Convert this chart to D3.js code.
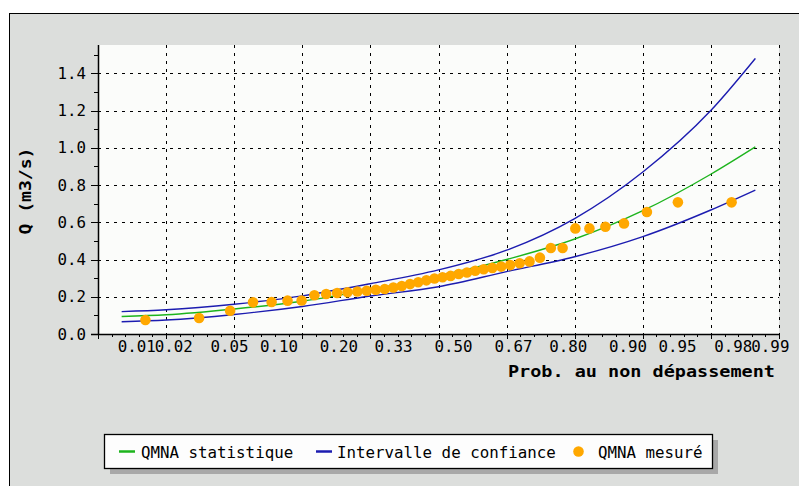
<!DOCTYPE html>
<html>
<head>
<meta charset="utf-8">
<script src="https://cdn.jsdelivr.net/npm/d3@7"></script>
<style>
  body { margin: 0; background: #ffffff; }
  svg { display: block; }
  text { font-family: "DejaVu Sans Mono", monospace; fill: #000; }
</style>
</head>
<body>
<div id="chart"></div>
<script>
// probability axis labels
const probTickValues = [0.01, 0.02, 0.05, 0.10, 0.20, 0.33, 0.50, 0.67, 0.80, 0.90, 0.95, 0.98, 0.99];
const probTickLabels = ["0.01", "0.02", "0.05", "0.10", "0.20", "0.33", "0.50", "0.67", "0.80", "0.90", "0.95", "0.98", "0.99"];

// fitted curve + confidence interval
const curveProb = [0.01, 0.0228, 0.0668, 0.1587, 0.3085, 0.5, 0.6915, 0.8413, 0.9332, 0.9772, 0.99];
const qmnaStat  = [0.094, 0.103, 0.134, 0.176, 0.238, 0.312, 0.400, 0.510, 0.662, 0.858, 1.005];
const ciUpper   = [0.120, 0.130, 0.160, 0.205, 0.270, 0.344, 0.450, 0.620, 0.870, 1.200, 1.480];
const ciLower   = [0.066, 0.075, 0.105, 0.148, 0.204, 0.254, 0.335, 0.415, 0.523, 0.666, 0.773];

// measured QMNA, sorted, with their plotting probabilities
const measuredProb = [0.0157, 0.0394, 0.0630, 0.0866, 0.1102, 0.1339, 0.1575, 0.1811, 0.2047, 0.2283,
  0.2520, 0.2756, 0.2992, 0.3228, 0.3465, 0.3701, 0.3937, 0.4173, 0.4409, 0.4646,
  0.4882, 0.5118, 0.5354, 0.5591, 0.5827, 0.6063, 0.6299, 0.6535, 0.6772, 0.7008,
  0.7244, 0.7480, 0.7717, 0.7953, 0.8189, 0.8425, 0.8661, 0.8898, 0.9134, 0.9370,
  0.9606, 0.9843];
const measuredQ = [0.075, 0.086, 0.125, 0.170, 0.172, 0.179, 0.180, 0.208, 0.215, 0.220,
  0.224, 0.228, 0.232, 0.238, 0.242, 0.250, 0.258, 0.268, 0.278, 0.288,
  0.298, 0.305, 0.312, 0.322, 0.330, 0.340, 0.348, 0.355, 0.362, 0.370,
  0.380, 0.390, 0.410, 0.462, 0.462, 0.567, 0.567, 0.576, 0.594, 0.655,
  0.707, 0.707];

const legendItems = ["QMNA statistique", "Intervalle de confiance", "QMNA mesuré"];

// inverse normal cdf (Acklam)
function probit(p) {
    const a = [-3.969683028665376e+01, 2.209460984245205e+02, -2.759285104469687e+02, 1.383577518672690e+02, -3.066479806614716e+01, 2.506628277459239e+00];
    const b = [-5.447609879822406e+01, 1.615858368580409e+02, -1.556989798598866e+02, 6.680131188771972e+01, -1.328068155288572e+01];
    const c = [-7.784894002430293e-03, -3.223964580411365e-01, -2.400758277161838e+00, -2.549732539343734e+00, 4.374664141464968e+00, 2.938163982698783e+00];
    const d = [7.784695709041462e-03, 3.224671290700398e-01, 2.445134137142996e+00, 3.754408661907416e+00];
    const pl = 0.02425;
    if (p < pl) {
        const q = Math.sqrt(-2 * Math.log(p));
        return (((((c[0]*q+c[1])*q+c[2])*q+c[3])*q+c[4])*q+c[5]) / ((((d[0]*q+d[1])*q+d[2])*q+d[3])*q+1);
    }
    if (p > 1 - pl) {
        const q = Math.sqrt(-2 * Math.log(1 - p));
        return -(((((c[0]*q+c[1])*q+c[2])*q+c[3])*q+c[4])*q+c[5]) / ((((d[0]*q+d[1])*q+d[2])*q+d[3])*q+1);
    }
    const q = p - 0.5, r = q * q;
    return (((((a[0]*r+a[1])*r+a[2])*r+a[3])*r+a[4])*r+a[5])*q / (((((b[0]*r+b[1])*r+b[2])*r+b[3])*r+b[4])*r+1);
}

class ProbabilityChart {
    constructor(_config) {
        this.config = {
            parentElement: _config.parentElement,
            width: 799,
            height: 486,
            margin: {top: 45, right: 20, bottom: 152, left: 98}
        };
        this.initVis();
    }

    initVis() {
        let vis = this;
        const m = vis.config.margin;
        vis.innerW = 681;
        vis.innerH = vis.config.height - m.top - m.bottom;

        vis.svgRoot = d3.select(vis.config.parentElement).append("svg")
            .attr("width", vis.config.width)
            .attr("height", vis.config.height);

        // grey panel with black frame
        vis.svgRoot.append("rect")
            .attr("x", 9.5).attr("y", 13.5)
            .attr("width", 820).attr("height", 500)
            .attr("fill", "#dcdedc")
            .attr("stroke", "#000");

        vis.svg = vis.svgRoot.append("g")
            .attr("transform", `translate(${m.left},${m.top})`);

        // x is linear in the normal variate
        vis.zScale = d3.scaleLinear().domain([-2.5, 2.5]).range([0, vis.innerW]);
        vis.xScale = p => vis.zScale(probit(p));
        vis.yScale = d3.scaleLinear().domain([0, 1.552]).range([vis.innerH, 0]);

        vis.renderVis();
    }

    renderVis() {
        let vis = this;
        const W = vis.innerW, H = vis.innerH;

        vis.svg.append("rect")
            .attr("width", W).attr("height", H)
            .attr("fill", "#fbfcfa");

        // grid
        const zMajor = d3.range(-2, 2.51, 0.5);
        vis.svg.append("g").selectAll("line")
            .data(zMajor)
            .join("line")
                .attr("x1", d => Math.round(vis.zScale(d)) + 0.5)
                .attr("x2", d => Math.round(vis.zScale(d)) + 0.5)
                .attr("y1", 0).attr("y2", H)
                .attr("stroke", "#000")
                .attr("stroke-dasharray", "3,5");

        const yMajor = d3.range(0.2, 1.41, 0.2);
        vis.svg.append("g").selectAll("line")
            .data(yMajor)
            .join("line")
                .attr("x1", 0).attr("x2", W)
                .attr("y1", d => Math.round(vis.yScale(d)) + 0.5)
                .attr("y2", d => Math.round(vis.yScale(d)) + 0.5)
                .attr("stroke", "#000")
                .attr("stroke-dasharray", "3,5");

        // curves
        const line = d3.line()
            .x(d => vis.xScale(d[0]))
            .y(d => vis.yScale(d[1]))
            .curve(d3.curveMonotoneX);

        const series = [
            {vals: ciUpper, color: "#1c1cb0"},
            {vals: ciLower, color: "#1c1cb0"},
            {vals: qmnaStat, color: "#1db41d"}
        ];
        vis.svg.append("g").selectAll("path")
            .data(series)
            .join("path")
                .attr("d", s => line(curveProb.map((p, i) => [p, s.vals[i]])))
                .attr("fill", "none")
                .attr("stroke", s => s.color)
                .attr("stroke-width", 1.4);

        // measured points
        vis.svg.append("g").selectAll("circle")
            .data(measuredProb.map((p, i) => ({p: p, q: measuredQ[i]})))
            .join("circle")
                .attr("cx", d => vis.xScale(d.p))
                .attr("cy", d => vis.yScale(d.q))
                .attr("r", 5.3)
                .attr("fill", "#ffa800");

        // axes lines
        vis.svg.append("line")
            .attr("x1", 0.5).attr("x2", 0.5).attr("y1", 0).attr("y2", H + 0.5)
            .attr("stroke", "#000").attr("stroke-width", 1.5);
        vis.svg.append("line")
            .attr("x1", -7).attr("x2", W + 0.5).attr("y1", H + 0.5).attr("y2", H + 0.5)
            .attr("stroke", "#000").attr("stroke-width", 1.5);

        // y ticks
        const yMinor = d3.range(0.1, 1.51, 0.2);
        vis.svg.append("g").selectAll("line")
            .data(yMinor)
            .join("line")
                .attr("x1", -4).attr("x2", 0)
                .attr("y1", d => Math.round(vis.yScale(d)) + 0.5)
                .attr("y2", d => Math.round(vis.yScale(d)) + 0.5)
                .attr("stroke", "#000");
        vis.svg.append("g").selectAll("line")
            .data(d3.range(0, 1.41, 0.2))
            .join("line")
                .attr("x1", -7).attr("x2", 0)
                .attr("y1", d => Math.round(vis.yScale(d)) + 0.5)
                .attr("y2", d => Math.round(vis.yScale(d)) + 0.5)
                .attr("stroke", "#000");
        vis.svg.append("g").selectAll("text")
            .data(d3.range(0, 1.41, 0.2))
            .join("text")
                .attr("x", -12)
                .attr("y", d => vis.yScale(d) + 5.7)
                .attr("text-anchor", "end")
                .style("font-size", "15.8px")
                .text(d => d3.format(".1f")(d));

        // x ticks
        const zMinor = d3.range(-2.5, 2.51, 0.1).filter(z => Math.abs(z * 2 - Math.round(z * 2)) > 0.01);
        vis.svg.append("g").selectAll("line")
            .data(zMinor)
            .join("line")
                .attr("x1", d => Math.round(vis.zScale(d)) + 0.5)
                .attr("x2", d => Math.round(vis.zScale(d)) + 0.5)
                .attr("y1", H).attr("y2", H + 3)
                .attr("stroke", "#000");
        vis.svg.append("g").selectAll("line")
            .data(d3.range(-2.5, 2.51, 0.5))
            .join("line")
                .attr("x1", d => Math.round(vis.zScale(d)) + 0.5)
                .attr("x2", d => Math.round(vis.zScale(d)) + 0.5)
                .attr("y1", H).attr("y2", H + 5)
                .attr("stroke", "#000");
        vis.svg.append("g").selectAll("text")
            .data(probTickValues)
            .join("text")
                .attr("x", d => vis.xScale(d) - 4)
                .attr("y", H + 18)
                .style("font-size", "15.8px")
                .text((d, i) => probTickLabels[i]);

        // titles
        vis.svgRoot.append("text")
            .attr("x", 775).attr("y", 377)
            .attr("text-anchor", "end")
            .attr("textLength", 267).attr("lengthAdjust", "spacingAndGlyphs")
            .style("font-size", "15px").style("font-weight", "bold")
            .text("Prob. au non dépassement");
        vis.svgRoot.append("text")
            .attr("transform", "translate(31,191) rotate(-90)")
            .attr("text-anchor", "middle")
            .attr("textLength", 87).attr("lengthAdjust", "spacingAndGlyphs")
            .style("font-size", "15px").style("font-weight", "bold")
            .text("Q (m3/s)");

        // legend
        const lg = vis.svgRoot.append("g");
        lg.append("rect").attr("x", 110).attr("y", 440).attr("width", 608).attr("height", 34).attr("fill", "#a8a8a8");
        lg.append("rect").attr("x", 104.5).attr("y", 434.5).attr("width", 608).attr("height", 34)
            .attr("fill", "#fdfdfd").attr("stroke", "#000").attr("stroke-width", 1.3);
        lg.append("line").attr("x1", 119).attr("x2", 135).attr("y1", 451.5).attr("y2", 451.5)
            .attr("stroke", "#1db41d").attr("stroke-width", 2.5);
        lg.append("line").attr("x1", 316).attr("x2", 332).attr("y1", 451.5).attr("y2", 451.5)
            .attr("stroke", "#1c1cb0").attr("stroke-width", 2.5);
        lg.append("circle").attr("cx", 578.5).attr("cy", 451.5).attr("r", 5.3).attr("fill", "#ffa800");
        lg.selectAll("text")
            .data(legendItems)
            .join("text")
                .attr("x", (d, i) => [141, 337, 598][i])
                .attr("y", 457.5)
                .style("font-size", "15.8px")
                .text(d => d);
    }
}

new ProbabilityChart({parentElement: "#chart"});
</script>
</body>
</html>
